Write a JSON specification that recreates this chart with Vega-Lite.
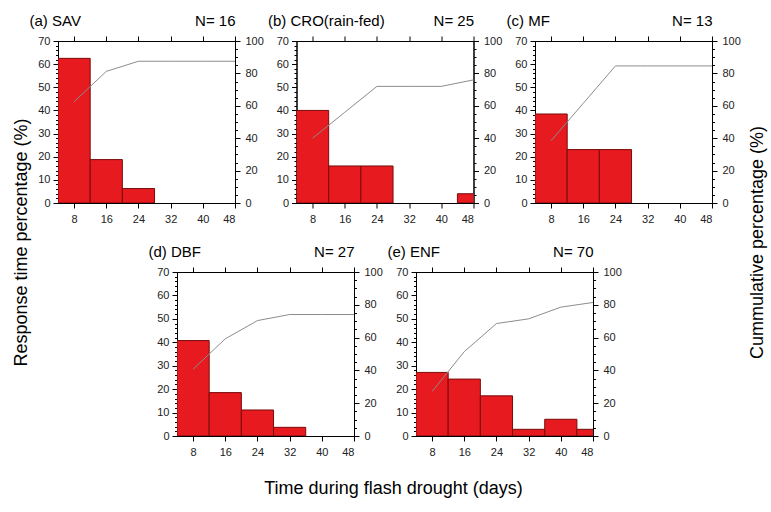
{
"$schema": "https://vega.github.io/schema/vega-lite/v6.json",
"background": "white",
"padding": {"left": 11, "top": 12, "right": 5, "bottom": 5},
"datasets": {
 "bars": [
  {"panel": "a", "start": 4, "end": 12, "pct": 62.5},
  {"panel": "a", "start": 12, "end": 20, "pct": 18.75},
  {"panel": "a", "start": 20, "end": 28, "pct": 6.25},
  {"panel": "b", "start": 4, "end": 12, "pct": 40},
  {"panel": "b", "start": 12, "end": 20, "pct": 16},
  {"panel": "b", "start": 20, "end": 28, "pct": 16},
  {"panel": "b", "start": 44, "end": 52, "pct": 4},
  {"panel": "c", "start": 4, "end": 12, "pct": 38.46},
  {"panel": "c", "start": 12, "end": 20, "pct": 23.08},
  {"panel": "c", "start": 20, "end": 28, "pct": 23.08},
  {"panel": "d", "start": 4, "end": 12, "pct": 40.74},
  {"panel": "d", "start": 12, "end": 20, "pct": 18.52},
  {"panel": "d", "start": 20, "end": 28, "pct": 11.11},
  {"panel": "d", "start": 28, "end": 36, "pct": 3.7},
  {"panel": "e", "start": 4, "end": 12, "pct": 27.14},
  {"panel": "e", "start": 12, "end": 20, "pct": 24.29},
  {"panel": "e", "start": 20, "end": 28, "pct": 17.14},
  {"panel": "e", "start": 28, "end": 36, "pct": 2.86},
  {"panel": "e", "start": 36, "end": 44, "pct": 7.14},
  {"panel": "e", "start": 44, "end": 52, "pct": 2.86}
 ],
 "cum": [
  {"panel": "a", "day": 8, "cum": 62.5}, {"panel": "a", "day": 16, "cum": 81.25}, {"panel": "a", "day": 24, "cum": 87.5}, {"panel": "a", "day": 32, "cum": 87.5}, {"panel": "a", "day": 40, "cum": 87.5}, {"panel": "a", "day": 48, "cum": 87.5},
  {"panel": "b", "day": 8, "cum": 40}, {"panel": "b", "day": 16, "cum": 56}, {"panel": "b", "day": 24, "cum": 72}, {"panel": "b", "day": 32, "cum": 72}, {"panel": "b", "day": 40, "cum": 72}, {"panel": "b", "day": 48, "cum": 76},
  {"panel": "c", "day": 8, "cum": 38.46}, {"panel": "c", "day": 16, "cum": 61.54}, {"panel": "c", "day": 24, "cum": 84.62}, {"panel": "c", "day": 32, "cum": 84.62}, {"panel": "c", "day": 40, "cum": 84.62}, {"panel": "c", "day": 48, "cum": 84.62},
  {"panel": "d", "day": 8, "cum": 40.74}, {"panel": "d", "day": 16, "cum": 59.26}, {"panel": "d", "day": 24, "cum": 70.37}, {"panel": "d", "day": 32, "cum": 74.07}, {"panel": "d", "day": 40, "cum": 74.07}, {"panel": "d", "day": 48, "cum": 74.07},
  {"panel": "e", "day": 8, "cum": 27.14}, {"panel": "e", "day": 16, "cum": 51.43}, {"panel": "e", "day": 24, "cum": 68.57}, {"panel": "e", "day": 32, "cum": 71.43}, {"panel": "e", "day": 40, "cum": 78.57}, {"panel": "e", "day": 48, "cum": 81.43}
 ]
},
"vconcat": [
 {"hconcat": [
  {"width": 177, "height": 162,
   "layer": [
    {"data": {"name": "bars"}, "transform": [{"filter": "datum.panel === 'a'"}],
     "mark": {"type": "bar", "clip": true, "fill": "#e61a1f", "stroke": "#7a0b0b", "strokeWidth": 1},
     "encoding": {
      "x": {"field": "start", "type": "quantitative", "scale": {"domain": [4, 48], "nice": false, "zero": false}, "axis": {"orient": "bottom", "values": [8, 16, 24, 32, 40, 48], "title": null}},
      "x2": {"field": "end"},
      "y": {"field": "pct", "type": "quantitative", "scale": {"domain": [0, 70], "nice": false}, "axis": {"orient": "left", "values": [0, 10, 20, 30, 40, 50, 60, 70], "title": "Response time percentage (%)", "titleFontSize": 18, "titleAngle": -90, "titleX": -37, "titleY": 201, "titleAlign": "center", "titleBaseline": "middle"}},
      "y2": {"datum": 0}}},
    {"data": {"name": "cum"}, "transform": [{"filter": "datum.panel === 'a'"}],
     "mark": {"type": "line", "color": "#8c8c8c", "strokeWidth": 1},
     "encoding": {
      "x": {"field": "day", "type": "quantitative", "scale": {"domain": [4, 48], "nice": false, "zero": false}, "axis": {"orient": "top", "values": [8, 16, 24, 32, 40, 48], "labels": false, "title": "N= 16", "titleX": 177, "titleY": -16, "titleAlign": "right", "titleBaseline": "alphabetic", "titleAngle": 0}},
      "y": {"field": "cum", "type": "quantitative", "scale": {"domain": [0, 100], "nice": false}, "axis": {"orient": "right", "values": [0, 20, 40, 60, 80, 100], "title": null}}}},
    {"data": {"name": "bars"}, "transform": [{"filter": "datum.panel === 'a'"}],
     "mark": {"type": "point", "opacity": 0},
     "encoding": {
      "x": {"field": "start", "type": "quantitative", "scale": {"domain": [4, 48], "nice": false, "zero": false}, "axis": null},
      "y": {"field": "pct", "type": "quantitative", "scale": {"domain": [0, 70], "nice": false}, "axis": {"orient": "left", "values": [0,2,4,6,8,10,12,14,16,18,20,22,24,26,28,30,32,34,36,38,40,42,44,46,48,50,52,54,56,58,60,62,64,66,68,70], "labels": false, "domain": false, "tickSize": 2.5, "title": "(a) SAV", "titleAngle": 0, "titleX": -29, "titleY": -16, "titleAlign": "left", "titleBaseline": "alphabetic"}}}},
    {"data": {"name": "cum"}, "transform": [{"filter": "datum.panel === 'a'"}],
     "mark": {"type": "point", "opacity": 0},
     "encoding": {
      "x": {"field": "day", "type": "quantitative", "scale": {"domain": [4, 48], "nice": false, "zero": false}, "axis": null},
      "y": {"field": "cum", "type": "quantitative", "scale": {"domain": [0, 100], "nice": false}, "axis": {"orient": "right", "values": [0,5,10,15,20,25,30,35,40,45,50,55,60,65,70,75,80,85,90,95,100], "labels": false, "domain": false, "tickSize": 2.5, "title": null}}}}
   ],
   "resolve": {"scale": {"x": "independent", "y": "independent"}}},
  {"width": 177, "height": 162,
   "layer": [
    {"data": {"name": "bars"}, "transform": [{"filter": "datum.panel === 'b'"}],
     "mark": {"type": "bar", "clip": true, "fill": "#e61a1f", "stroke": "#7a0b0b", "strokeWidth": 1},
     "encoding": {
      "x": {"field": "start", "type": "quantitative", "scale": {"domain": [4, 48], "nice": false, "zero": false}, "axis": {"orient": "bottom", "values": [8, 16, 24, 32, 40, 48], "title": null}},
      "x2": {"field": "end"},
      "y": {"field": "pct", "type": "quantitative", "scale": {"domain": [0, 70], "nice": false}, "axis": {"orient": "left", "values": [0, 10, 20, 30, 40, 50, 60, 70], "title": null}},
      "y2": {"datum": 0}}},
    {"data": {"name": "cum"}, "transform": [{"filter": "datum.panel === 'b'"}],
     "mark": {"type": "line", "color": "#8c8c8c", "strokeWidth": 1},
     "encoding": {
      "x": {"field": "day", "type": "quantitative", "scale": {"domain": [4, 48], "nice": false, "zero": false}, "axis": {"orient": "top", "values": [8, 16, 24, 32, 40, 48], "labels": false, "title": "N= 25", "titleX": 177, "titleY": -16, "titleAlign": "right", "titleBaseline": "alphabetic", "titleAngle": 0}},
      "y": {"field": "cum", "type": "quantitative", "scale": {"domain": [0, 100], "nice": false}, "axis": {"orient": "right", "values": [0, 20, 40, 60, 80, 100], "title": null}}}},
    {"data": {"name": "bars"}, "transform": [{"filter": "datum.panel === 'b'"}],
     "mark": {"type": "point", "opacity": 0},
     "encoding": {
      "x": {"field": "start", "type": "quantitative", "scale": {"domain": [4, 48], "nice": false, "zero": false}, "axis": null},
      "y": {"field": "pct", "type": "quantitative", "scale": {"domain": [0, 70], "nice": false}, "axis": {"orient": "left", "values": [0,2,4,6,8,10,12,14,16,18,20,22,24,26,28,30,32,34,36,38,40,42,44,46,48,50,52,54,56,58,60,62,64,66,68,70], "labels": false, "domain": false, "tickSize": 2.5, "title": "(b) CRO(rain-fed)", "titleAngle": 0, "titleX": -29, "titleY": -16, "titleAlign": "left", "titleBaseline": "alphabetic"}}}},
    {"data": {"name": "cum"}, "transform": [{"filter": "datum.panel === 'b'"}],
     "mark": {"type": "point", "opacity": 0},
     "encoding": {
      "x": {"field": "day", "type": "quantitative", "scale": {"domain": [4, 48], "nice": false, "zero": false}, "axis": null},
      "y": {"field": "cum", "type": "quantitative", "scale": {"domain": [0, 100], "nice": false}, "axis": {"orient": "right", "values": [0,5,10,15,20,25,30,35,40,45,50,55,60,65,70,75,80,85,90,95,100], "labels": false, "domain": false, "tickSize": 2.5, "title": null}}}}
   ],
   "resolve": {"scale": {"x": "independent", "y": "independent"}}},
  {"width": 177, "height": 162,
   "layer": [
    {"data": {"name": "bars"}, "transform": [{"filter": "datum.panel === 'c'"}],
     "mark": {"type": "bar", "clip": true, "fill": "#e61a1f", "stroke": "#7a0b0b", "strokeWidth": 1},
     "encoding": {
      "x": {"field": "start", "type": "quantitative", "scale": {"domain": [4, 48], "nice": false, "zero": false}, "axis": {"orient": "bottom", "values": [8, 16, 24, 32, 40, 48], "title": null}},
      "x2": {"field": "end"},
      "y": {"field": "pct", "type": "quantitative", "scale": {"domain": [0, 70], "nice": false}, "axis": {"orient": "left", "values": [0, 10, 20, 30, 40, 50, 60, 70], "title": null}},
      "y2": {"datum": 0}}},
    {"data": {"name": "cum"}, "transform": [{"filter": "datum.panel === 'c'"}],
     "mark": {"type": "line", "color": "#8c8c8c", "strokeWidth": 1},
     "encoding": {
      "x": {"field": "day", "type": "quantitative", "scale": {"domain": [4, 48], "nice": false, "zero": false}, "axis": {"orient": "top", "values": [8, 16, 24, 32, 40, 48], "labels": false, "title": "N= 13", "titleX": 177, "titleY": -16, "titleAlign": "right", "titleBaseline": "alphabetic", "titleAngle": 0}},
      "y": {"field": "cum", "type": "quantitative", "scale": {"domain": [0, 100], "nice": false}, "axis": {"orient": "right", "values": [0, 20, 40, 60, 80, 100], "title": "Cummulative percentage (%)", "titleFontSize": 18, "titleAngle": -90, "titleX": 45, "titleY": 201, "titleAlign": "center", "titleBaseline": "middle"}}}},
    {"data": {"name": "bars"}, "transform": [{"filter": "datum.panel === 'c'"}],
     "mark": {"type": "point", "opacity": 0},
     "encoding": {
      "x": {"field": "start", "type": "quantitative", "scale": {"domain": [4, 48], "nice": false, "zero": false}, "axis": null},
      "y": {"field": "pct", "type": "quantitative", "scale": {"domain": [0, 70], "nice": false}, "axis": {"orient": "left", "values": [0,2,4,6,8,10,12,14,16,18,20,22,24,26,28,30,32,34,36,38,40,42,44,46,48,50,52,54,56,58,60,62,64,66,68,70], "labels": false, "domain": false, "tickSize": 2.5, "title": "(c) MF", "titleAngle": 0, "titleX": -29, "titleY": -16, "titleAlign": "left", "titleBaseline": "alphabetic"}}}},
    {"data": {"name": "cum"}, "transform": [{"filter": "datum.panel === 'c'"}],
     "mark": {"type": "point", "opacity": 0},
     "encoding": {
      "x": {"field": "day", "type": "quantitative", "scale": {"domain": [4, 48], "nice": false, "zero": false}, "axis": null},
      "y": {"field": "cum", "type": "quantitative", "scale": {"domain": [0, 100], "nice": false}, "axis": {"orient": "right", "values": [0,5,10,15,20,25,30,35,40,45,50,55,60,65,70,75,80,85,90,95,100], "labels": false, "domain": false, "tickSize": 2.5, "title": null}}}}
   ],
   "resolve": {"scale": {"x": "independent", "y": "independent"}}}
 ], "spacing": 61.5, "bounds": "flush"},
 {"hconcat": [
  {"width": 57, "height": 10,
   "data": {"values": [{"k": 1}]},
   "mark": {"type": "point", "opacity": 0},
   "encoding": {},
   "view": {"stroke": null}},
  {"width": 177, "height": 164,
   "layer": [
    {"data": {"name": "bars"}, "transform": [{"filter": "datum.panel === 'd'"}],
     "mark": {"type": "bar", "clip": true, "fill": "#e61a1f", "stroke": "#7a0b0b", "strokeWidth": 1},
     "encoding": {
      "x": {"field": "start", "type": "quantitative", "scale": {"domain": [4, 48], "nice": false, "zero": false}, "axis": {"orient": "bottom", "values": [8, 16, 24, 32, 40, 48], "title": "Time during flash drought (days)", "titleFontSize": 18, "titleX": 216, "titleY": 57, "titleAlign": "center", "titleBaseline": "alphabetic", "titleAngle": 0}},
      "x2": {"field": "end"},
      "y": {"field": "pct", "type": "quantitative", "scale": {"domain": [0, 70], "nice": false}, "axis": {"orient": "left", "values": [0, 10, 20, 30, 40, 50, 60, 70], "title": null}},
      "y2": {"datum": 0}}},
    {"data": {"name": "cum"}, "transform": [{"filter": "datum.panel === 'd'"}],
     "mark": {"type": "line", "color": "#8c8c8c", "strokeWidth": 1},
     "encoding": {
      "x": {"field": "day", "type": "quantitative", "scale": {"domain": [4, 48], "nice": false, "zero": false}, "axis": {"orient": "top", "values": [8, 16, 24, 32, 40, 48], "labels": false, "title": "N= 27", "titleX": 177, "titleY": -16, "titleAlign": "right", "titleBaseline": "alphabetic", "titleAngle": 0}},
      "y": {"field": "cum", "type": "quantitative", "scale": {"domain": [0, 100], "nice": false}, "axis": {"orient": "right", "values": [0, 20, 40, 60, 80, 100], "title": null}}}},
    {"data": {"name": "bars"}, "transform": [{"filter": "datum.panel === 'd'"}],
     "mark": {"type": "point", "opacity": 0},
     "encoding": {
      "x": {"field": "start", "type": "quantitative", "scale": {"domain": [4, 48], "nice": false, "zero": false}, "axis": null},
      "y": {"field": "pct", "type": "quantitative", "scale": {"domain": [0, 70], "nice": false}, "axis": {"orient": "left", "values": [0,2,4,6,8,10,12,14,16,18,20,22,24,26,28,30,32,34,36,38,40,42,44,46,48,50,52,54,56,58,60,62,64,66,68,70], "labels": false, "domain": false, "tickSize": 2.5, "title": "(d) DBF", "titleAngle": 0, "titleX": -29, "titleY": -16, "titleAlign": "left", "titleBaseline": "alphabetic"}}}},
    {"data": {"name": "cum"}, "transform": [{"filter": "datum.panel === 'd'"}],
     "mark": {"type": "point", "opacity": 0},
     "encoding": {
      "x": {"field": "day", "type": "quantitative", "scale": {"domain": [4, 48], "nice": false, "zero": false}, "axis": null},
      "y": {"field": "cum", "type": "quantitative", "scale": {"domain": [0, 100], "nice": false}, "axis": {"orient": "right", "values": [0,5,10,15,20,25,30,35,40,45,50,55,60,65,70,75,80,85,90,95,100], "labels": false, "domain": false, "tickSize": 2.5, "title": null}}}}
   ],
   "resolve": {"scale": {"x": "independent", "y": "independent"}}},
  {"width": 177, "height": 164,
   "layer": [
    {"data": {"name": "bars"}, "transform": [{"filter": "datum.panel === 'e'"}],
     "mark": {"type": "bar", "clip": true, "fill": "#e61a1f", "stroke": "#7a0b0b", "strokeWidth": 1},
     "encoding": {
      "x": {"field": "start", "type": "quantitative", "scale": {"domain": [4, 48], "nice": false, "zero": false}, "axis": {"orient": "bottom", "values": [8, 16, 24, 32, 40, 48], "title": null}},
      "x2": {"field": "end"},
      "y": {"field": "pct", "type": "quantitative", "scale": {"domain": [0, 70], "nice": false}, "axis": {"orient": "left", "values": [0, 10, 20, 30, 40, 50, 60, 70], "title": null}},
      "y2": {"datum": 0}}},
    {"data": {"name": "cum"}, "transform": [{"filter": "datum.panel === 'e'"}],
     "mark": {"type": "line", "color": "#8c8c8c", "strokeWidth": 1},
     "encoding": {
      "x": {"field": "day", "type": "quantitative", "scale": {"domain": [4, 48], "nice": false, "zero": false}, "axis": {"orient": "top", "values": [8, 16, 24, 32, 40, 48], "labels": false, "title": "N= 70", "titleX": 177, "titleY": -16, "titleAlign": "right", "titleBaseline": "alphabetic", "titleAngle": 0}},
      "y": {"field": "cum", "type": "quantitative", "scale": {"domain": [0, 100], "nice": false}, "axis": {"orient": "right", "values": [0, 20, 40, 60, 80, 100], "title": null}}}},
    {"data": {"name": "bars"}, "transform": [{"filter": "datum.panel === 'e'"}],
     "mark": {"type": "point", "opacity": 0},
     "encoding": {
      "x": {"field": "start", "type": "quantitative", "scale": {"domain": [4, 48], "nice": false, "zero": false}, "axis": null},
      "y": {"field": "pct", "type": "quantitative", "scale": {"domain": [0, 70], "nice": false}, "axis": {"orient": "left", "values": [0,2,4,6,8,10,12,14,16,18,20,22,24,26,28,30,32,34,36,38,40,42,44,46,48,50,52,54,56,58,60,62,64,66,68,70], "labels": false, "domain": false, "tickSize": 2.5, "title": "(e) ENF", "titleAngle": 0, "titleX": -29, "titleY": -16, "titleAlign": "left", "titleBaseline": "alphabetic"}}}},
    {"data": {"name": "cum"}, "transform": [{"filter": "datum.panel === 'e'"}],
     "mark": {"type": "point", "opacity": 0},
     "encoding": {
      "x": {"field": "day", "type": "quantitative", "scale": {"domain": [4, 48], "nice": false, "zero": false}, "axis": null},
      "y": {"field": "cum", "type": "quantitative", "scale": {"domain": [0, 100], "nice": false}, "axis": {"orient": "right", "values": [0,5,10,15,20,25,30,35,40,45,50,55,60,65,70,75,80,85,90,95,100], "labels": false, "domain": false, "tickSize": 2.5, "title": null}}}}
   ],
   "resolve": {"scale": {"x": "independent", "y": "independent"}}}
 ], "spacing": 62, "bounds": "flush"}
],
"spacing": 231,
"bounds": "flush",
"config": {
 "font": "Liberation Sans",
 "view": {"stroke": "black", "strokeWidth": 1},
 "axis": {"grid": false, "domainColor": "black", "tickColor": "black", "labelFont": "Liberation Sans", "labelFontSize": 11, "labelColor": "#222", "tickSize": 5, "labelPadding": 3, "titleFont": "Liberation Sans", "titleFontSize": 15, "titleFontWeight": "normal", "titleColor": "black"},
 "axisBottom": {"labelPadding": 5},
 "axisRight": {"labelPadding": 5}
}
}
